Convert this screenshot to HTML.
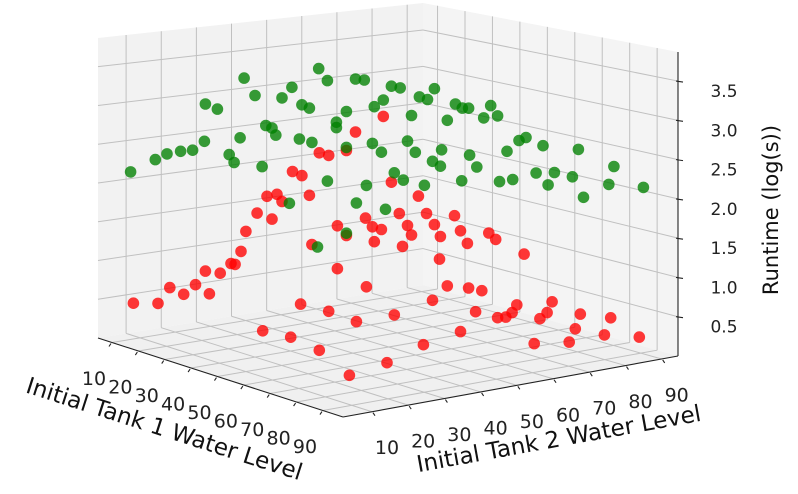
<!DOCTYPE html>
<html><head><meta charset="utf-8"><style>
html,body{margin:0;padding:0;background:#fff;}
svg{display:block;font-family:"DejaVu Sans","Liberation Sans",sans-serif;}
</style></head><body>
<svg id="chart" width="798" height="494" viewBox="0 0 798 494" xmlns="http://www.w3.org/2000/svg">
<g id="panes"></g>
<g id="grid"></g>
<g id="axes"></g>
<g id="points"></g>
<text x="0" y="0" font-size="23" fill="#111" text-anchor="middle" dominant-baseline="middle" transform="translate(164,430) rotate(17.8)">Initial Tank 1 Water Level</text>
<text x="0" y="0" font-size="23" fill="#111" text-anchor="middle" dominant-baseline="middle" transform="translate(559,440) rotate(-10.3)">Initial Tank 2 Water Level</text>
<text x="0" y="0" font-size="21" fill="#111" text-anchor="middle" dominant-baseline="middle" transform="translate(772,210) rotate(-90)">Runtime (log(s))</text>
</svg>
<script>
const tank1Ticks=[10,20,30,40,50,60,70,80,90];
const tank2Ticks=[10,20,30,40,50,60,70,80,90];
const runtimeTicks=[0.5,1.0,1.5,2.0,2.5,3.0,3.5];
const greenT1=[10.0,14.0,15.9,18.1,20.1,22.0,22.1,24.1,28.4,30.1,26.0,26.8,27.7,31.3,31.9,32.9,33.5,34.5,36.1,37.7,38.9,40.4,41.8,37.3,39.3,41.8,35.7,43.3,43.3,44.9,44.9,46.3,47.7,48.1,46.5,49.0,49.3,50.5,50.8,52.1,53.5,52.5,54.0,51.1,54.6,55.3,55.9,56.5,57.3,57.8,58.9,58.6,59.9,60.1,61.0,62.3,63.4,63.3,64.4,64.5,65.7,66.8,67.9,69.0,69.3,70.5,71.4,72.4,73.5,75.1,76.2,77.0,78.0,80.9,81.8,82.6,86.6,87.4,92.1,44.9,40.2];
const greenT2=[7.3,11.3,13.2,15.4,17.3,19.2,19.4,21.3,25.6,27.4,23.2,24.0,25.0,28.5,29.1,30.1,30.7,31.7,33.3,34.9,36.1,37.6,39.0,34.5,36.5,39.0,32.9,40.4,40.4,42.0,42.0,43.5,44.9,45.2,43.6,46.2,46.5,47.6,47.9,49.2,50.6,49.7,51.1,48.3,51.8,52.4,53.0,53.7,54.5,55.0,56.1,55.8,57.0,57.2,58.1,59.4,60.5,60.4,61.5,61.7,62.8,63.9,65.0,66.1,66.4,67.6,68.5,69.5,70.6,72.2,73.3,74.1,75.1,77.9,78.9,79.7,83.7,84.5,89.1,42.0,37.4];
const greenRt=[2.16,2.33,2.41,2.45,2.47,2.59,3.07,3.01,3.42,3.20,2.43,2.33,2.65,2.29,2.82,2.79,2.70,3.18,3.32,3.10,3.06,3.57,3.42,2.66,2.62,2.13,1.83,2.89,2.82,3.03,2.57,3.45,3.44,2.09,1.86,2.63,3.10,2.52,3.19,3.37,3.35,2.26,2.17,1.79,2.67,3.00,2.53,3.24,2.11,3.21,3.35,2.42,2.36,2.57,2.95,3.16,3.11,2.18,3.11,2.51,2.36,2.99,3.15,3.02,2.18,2.57,2.21,2.71,2.75,2.30,2.65,2.15,2.31,2.26,2.61,2.00,2.17,2.40,2.14,1.47,1.28];
const redT1=[10.5,14.5,16.4,18.6,20.5,22.8,22.1,24.5,26.3,26.9,27.9,28.7,30.5,32.9,32.1,33.7,34.5,36.2,37.7,38.9,40.5,42.0,44.9,46.3,50.8,39.3,43.4,44.9,43.4,47.9,49.0,50.5,49.3,52.1,53.3,54.6,55.3,56.4,57.7,58.9,59.9,53.8,59.7,62.1,63.1,64.2,67.6,68.7,73.2,48.1,61.0,64.4,66.5,37.5,42.0,46.5,52.5,58.6,65.5,69.0,70.3,71.3,72.1,75.7,76.9,77.7,81.3,82.1,86.9,31.4,35.9,49.4,68.3,72.9,57.2,63.1,74.8,80.4,85.9,91.4];
const redT2=[7.7,11.7,13.6,15.9,17.8,20.0,19.4,21.8,23.5,24.2,25.1,25.9,27.7,30.1,29.3,30.9,31.7,33.4,34.9,36.1,37.7,39.2,42.0,43.5,47.9,36.5,40.6,42.0,40.6,45.1,46.2,47.6,46.5,49.2,50.5,51.8,52.4,53.5,54.8,56.1,57.0,51.0,56.9,59.3,60.2,61.3,64.7,65.8,70.3,45.2,58.1,61.5,63.6,34.7,39.2,43.6,49.7,55.8,62.6,66.1,67.4,68.4,69.1,72.8,73.9,74.7,78.4,79.2,84.0,28.6,33.1,31.0,35.8,21.9,54.3,60.2,71.9,77.4,83.0,88.5];
const redRt=[0.47,0.48,0.69,0.61,0.74,0.63,0.92,0.90,1.03,1.02,1.19,1.45,1.69,1.62,1.91,1.94,1.85,2.24,2.19,1.94,2.49,2.46,2.53,2.77,2.98,1.31,1.56,1.44,1.01,1.67,1.56,1.53,1.37,2.14,1.74,1.59,1.47,1.97,1.75,1.61,1.46,1.32,1.17,1.73,1.54,1.38,1.52,1.44,1.26,0.79,0.83,0.81,0.78,0.54,0.46,0.34,0.44,0.64,0.51,0.44,0.45,0.51,0.61,0.44,0.52,0.66,0.32,0.51,0.47,0.18,0.11,0.10,0.10,0.10,0.07,0.25,0.12,0.15,0.25,0.23];

const X1LO=4.7,X1HI=97.6,X2LO=2,X2HI=94.5,ZLO=0,ZHI=3.87;
const CF=[343,417],CL=[98,338],CR=[678,356],CB=[423,285];
const HF=322,HL=300,HR=304,HB=282;
function proj(x1,x2,z){
  const u=(X1HI-x1)/(X1HI-X1LO), v=(x2-X2LO)/(X2HI-X2LO);
  const wF=(1-u)*(1-v), wL=u*(1-v), wR=(1-u)*v, wB=u*v;
  const px=CF[0]*wF+CL[0]*wL+CR[0]*wR+CB[0]*wB;
  const py=CF[1]*wF+CL[1]*wL+CR[1]*wR+CB[1]*wB;
  const h=HF*wF+HL*wL+HR*wR+HB*wB;
  return [px, py-h*(z-ZLO)/(ZHI-ZLO)];
}
const NS='http://www.w3.org/2000/svg';
function mk(tag,parent,attrs){const e=document.createElementNS(NS,tag);for(const k in attrs)e.setAttribute(k,attrs[k]);parent.appendChild(e);return e;}
function pts(a){return a.map(p=>p[0].toFixed(1)+','+p[1].toFixed(1)).join(' ');}
const panes=document.getElementById('panes'),grid=document.getElementById('grid'),axes=document.getElementById('axes'),pg=document.getElementById('points');

let e;
e=mk('polygon',panes,{points:pts([proj(X1LO,X2LO,ZLO),proj(X1LO,X2HI,ZLO),proj(X1LO,X2HI,ZHI),proj(X1LO,X2LO,ZHI)]),fill:'#f2f2f2'});


e=mk('polygon',panes,{points:pts([proj(X1LO,X2HI,ZLO),proj(X1HI,X2HI,ZLO),proj(X1HI,X2HI,ZHI),proj(X1LO,X2HI,ZHI)]),fill:'#f4f4f4'});


e=mk('polygon',panes,{points:pts([proj(X1HI,X2LO,ZLO),proj(X1LO,X2LO,ZLO),proj(X1LO,X2HI,ZLO),proj(X1HI,X2HI,ZLO)]),fill:'#f0f0f0'});



function gl(a,b,name){
  const l=mk('line',grid,{x1:a[0],y1:a[1],x2:b[0],y2:b[1],stroke:'#c0c0c0','stroke-width':1});
  
  
}
tank1Ticks.forEach(t=>{gl(proj(t,X2LO,ZLO),proj(t,X2HI,ZLO),'floor-grid-tank1');gl(proj(t,X2HI,ZLO),proj(t,X2HI,ZHI),'wall-grid-tank1');});
tank2Ticks.forEach(t=>{gl(proj(X1LO,t,ZLO),proj(X1HI,t,ZLO),'floor-grid-tank2');gl(proj(X1LO,t,ZLO),proj(X1LO,t,ZHI),'wall-grid-tank2');});
runtimeTicks.forEach(t=>{gl(proj(X1LO,X2LO,t),proj(X1LO,X2HI,t),'left-grid-runtime');gl(proj(X1LO,X2HI,t),proj(X1HI,X2HI,t),'right-grid-runtime');});

function al(a,b,name){
  const l=mk('line',axes,{x1:a[0],y1:a[1],x2:b[0],y2:b[1],stroke:'#222','stroke-width':1.1});
  
  
}
al(proj(X1LO,X2LO,ZLO),proj(X1HI,X2LO,ZLO),'x-axis-line');
al(proj(X1HI,X2LO,ZLO),proj(X1HI,X2HI,ZLO),'y-axis-line');
al(proj(X1HI,X2HI,ZLO),proj(X1HI,X2HI,ZHI),'z-axis-line');
function lbl(x,y,txt,name,fs){
  const t=mk('text',axes,{x:x,y:y,'font-size':fs,fill:'#222','text-anchor':'middle','dominant-baseline':'middle'});
  t.textContent=txt;
  
  
}
tank1Ticks.forEach(t=>{const p=proj(t,X2LO,ZLO);al([p[0]-1,p[1]+1],[p[0]-3,p[1]+4],'x-tick');lbl(p[0]-18,p[1]+37,String(t),'x-tick-label',19);});
tank2Ticks.forEach(t=>{const p=proj(X1HI,t,ZLO);al([p[0]+1,p[1]+1],[p[0]+3,p[1]+4],'y-tick');lbl(p[0]+15,p[1]+37,String(t),'y-tick-label',19);});
runtimeTicks.forEach(t=>{const p=proj(X1HI,X2HI,t);al([p[0]-2,p[1]],[p[0]+5,p[1]+1],'z-tick');lbl(p[0]+46,p[1]+11,t.toFixed(1),'z-tick-label',17);});

function scatter(a1,a2,az,color,name){
  const n=Math.min(a1.length,a2.length,az.length);
  for(let i=0;i<n;i++){
    const p=proj(a1[i],a2[i],az[i]);
    const c=mk('circle',pg,{cx:p[0].toFixed(1),cy:p[1].toFixed(1),r:5.8,fill:color,'fill-opacity':0.78});
    
    
  }
}
scatter(redT1,redT2,redRt,'#ff0000','red-point');
scatter(greenT1,greenT2,greenRt,'#008000','green-point');
</script>
</body></html>
